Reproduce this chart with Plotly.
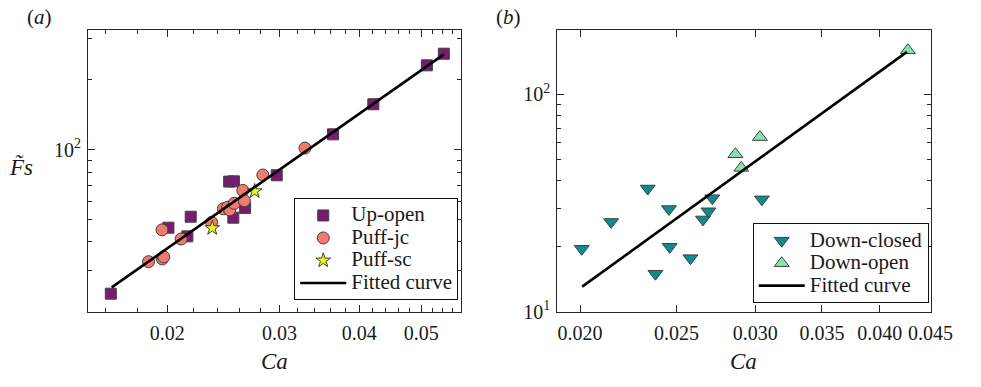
import plotly.graph_objects as go
import numpy as np

# ---------------- Panel (a) data ----------------
up_open_ca = [0.01632, 0.02009, 0.02177, 0.02151, 0.02501, 0.02544, 0.02539,
              0.02649, 0.02969, 0.03638, 0.04207, 0.05103, 0.05425]
up_open_fs = [23.96, 46.1, 51.4, 42.3, 72.8, 73.0, 50.9,
              56.1, 77.5, 116.3, 156.8, 230.6, 258.8]

puff_jc_ca = [0.01870, 0.01965, 0.01975, 0.01963, 0.02103, 0.02348, 0.02449,
              0.02488, 0.02506, 0.02548, 0.02627, 0.02642, 0.02824, 0.03287]
puff_jc_fs = [32.9, 33.8, 34.5, 45.1, 41.2, 48.6, 55.6,
              56.5, 55.0, 58.7, 66.7, 60.2, 77.7, 101.5]

puff_sc_ca = [0.02353, 0.02742]
puff_sc_fs = [45.9, 66.2]

fit_a_ca = [0.01637, 0.05425]
fit_a_fs = [25.5, 257.0]

# ---------------- Panel (b) data ----------------
down_closed_ca = [0.02008, 0.02149, 0.02339, 0.02457, 0.02461, 0.02381,
                  0.02582, 0.02658, 0.02692, 0.02716, 0.03046]
down_closed_fs = [19.5, 25.9, 36.9, 29.7, 19.9, 14.98,
                  17.66, 26.6, 29.0, 33.3, 32.9]

down_open_ca = [0.02865, 0.02904, 0.03032, 0.04270]
down_open_fs = [53.0, 45.9, 63.6, 159.3]

fit_b_ca = [0.0201, 0.04261]
fit_b_fs = [13.06, 156.7]

# tick labels
xa_ticks = [0.02, 0.03, 0.04, 0.05]
xa_ticktext = ["0.02", "0.03", "0.04", "0.05"]
xa_minor = [0.016, 0.018, 0.022, 0.024, 0.026, 0.028, 0.032, 0.034, 0.036, 0.038,
            0.042, 0.044, 0.046, 0.048, 0.052, 0.054, 0.056]
ya_ticks = [100]
ya_ticktext = ["10<sup>2</sup>"]
ya_minor = [30, 40, 50, 60, 70, 80, 90, 200, 300]

xb_ticks = [0.020, 0.025, 0.030, 0.035, 0.040, 0.045]
xb_ticktext = ["0.020", "0.025", "0.030", "0.035", "0.040", "0.045"]
yb_ticks = [10, 100]
yb_ticktext = ["10<sup>1</sup>", "10<sup>2</sup>"]
yb_minor = [20, 30, 40, 50, 60, 70, 80, 90]

FONT = "Liberation Serif, Times New Roman, serif"
AX = "#262626"
EDGE = "#404040"
TXT = "#1a1a1a"


def lg(name):
    # legend label rendered at the reference text size
    return "<span style='font-size:21px'>" + name + "</span>"


fig = go.Figure()

fig.add_trace(go.Scatter(x=up_open_ca, y=up_open_fs, mode="markers", name=lg("Up-open"),
                         marker=dict(symbol="square", size=11, color="#7b1a70",
                                     line=dict(color=EDGE, width=1)),
                         xaxis="x", yaxis="y", legend="legend"))
fig.add_trace(go.Scatter(x=puff_jc_ca, y=puff_jc_fs, mode="markers", name=lg("Puff-jc"),
                         marker=dict(symbol="circle", size=12, color="#f17a6e",
                                     line=dict(color=EDGE, width=1)),
                         xaxis="x", yaxis="y", legend="legend"))
fig.add_trace(go.Scatter(x=puff_sc_ca, y=puff_sc_fs, mode="markers", name=lg("Puff-sc"),
                         marker=dict(symbol="star", size=11, color="#e8f51c",
                                     line=dict(color=EDGE, width=1)),
                         xaxis="x", yaxis="y", legend="legend"))
fig.add_trace(go.Scatter(x=fit_a_ca, y=fit_a_fs, mode="lines", name=lg("Fitted curve"),
                         line=dict(color="black", width=2.6),
                         xaxis="x", yaxis="y", legend="legend"))

fig.add_trace(go.Scatter(x=down_closed_ca, y=down_closed_fs, mode="markers", name=lg("Down-closed"),
                         marker=dict(symbol="triangle-down", size=13, color="#0f8a91",
                                     line=dict(color=EDGE, width=1)),
                         xaxis="x2", yaxis="y2", legend="legend2"))
fig.add_trace(go.Scatter(x=down_open_ca, y=down_open_fs, mode="markers", name=lg("Down-open"),
                         marker=dict(symbol="triangle-up", size=13, color="#86e2b2",
                                     line=dict(color=EDGE, width=1)),
                         xaxis="x2", yaxis="y2", legend="legend2"))
fig.add_trace(go.Scatter(x=fit_b_ca, y=fit_b_fs, mode="lines", name=lg("Fitted curve"),
                         line=dict(color="black", width=2.6),
                         xaxis="x2", yaxis="y2", legend="legend2"))

W, H = 981, 387


def axis(domain, rng, tickvals, ticktext, minor_vals, anchor, standoff):
    d = dict(domain=domain, type="log", range=rng, anchor=anchor,
             tickmode="array", tickvals=tickvals, ticktext=ticktext,
             ticks="inside", ticklen=7, tickwidth=1, tickcolor=AX,
             showline=True, linecolor=AX, linewidth=1, mirror="allticks",
             showgrid=False, zeroline=False, ticklabelstandoff=standoff,
             tickfont=dict(family=FONT, size=20, color=TXT))
    if minor_vals:
        d["minor"] = dict(tickmode="array", tickvals=minor_vals, ticks="inside",
                          ticklen=4, tickwidth=1, tickcolor=AX, showgrid=False)
    return d


xa_dom = [90 / W, 472 / W]
xb_dom = [570 / W, 952.7 / W]
y_dom = [1 - 321 / H, 1 - 31 / H]

xa = axis(xa_dom, [np.log10(0.01503), np.log10(0.0578)], xa_ticks, xa_ticktext, xa_minor, "y", 3)
ya = axis(y_dom, [np.log10(20.0), np.log10(327.0)], ya_ticks, ya_ticktext, ya_minor, "x", 2)
xb = axis(xb_dom, [-1.7219, -1.346], xb_ticks, xb_ticktext, None, "y2", 3)
yb = axis(y_dom, [1.0, 2.295], yb_ticks, yb_ticktext, yb_minor, "x2", 2)

legend_common = dict(bgcolor="white", bordercolor="#111111", borderwidth=1,
                     font=dict(family=FONT, size=15, color=TXT),
                     xanchor="left", yanchor="bottom", tracegroupgap=0, itemwidth=46)

fig.update_layout(
    width=W, height=H, margin=dict(l=0, r=0, t=0, b=0),
    paper_bgcolor="white", plot_bgcolor="white",
    xaxis=xa, yaxis=ya, xaxis2=xb, yaxis2=yb,
    legend=dict(x=301 / W, y=1 - 309 / H, **legend_common),
    legend2=dict(x=770 / W, y=1 - 312.3 / H, **legend_common),
    showlegend=True,
    annotations=[
        dict(text="(<i>a</i>)", x=40 / W, y=1 - 18 / H, xref="paper", yref="paper",
             xanchor="center", yanchor="middle",
             showarrow=False, font=dict(family=FONT, size=21, color=TXT)),
        dict(text="(<i>b</i>)", x=520 / W, y=1 - 18 / H, xref="paper", yref="paper",
             xanchor="center", yanchor="middle",
             showarrow=False, font=dict(family=FONT, size=21, color=TXT)),
        dict(text="<i>Ca</i>", x=281 / W, y=1 - 372 / H, xref="paper", yref="paper",
             xanchor="center", yanchor="middle",
             showarrow=False, font=dict(family=FONT, size=23, color=TXT)),
        dict(text="<i>Ca</i>", x=761 / W, y=1 - 372 / H, xref="paper", yref="paper",
             xanchor="center", yanchor="middle",
             showarrow=False, font=dict(family=FONT, size=23, color=TXT)),
        dict(text="<i>F\u0303s</i>", x=21 / W, y=1 - 172 / H, xref="paper", yref="paper",
             xanchor="center", yanchor="middle",
             showarrow=False, font=dict(family=FONT, size=23, color=TXT)),
    ],
)

fig.write_html("out.html")
